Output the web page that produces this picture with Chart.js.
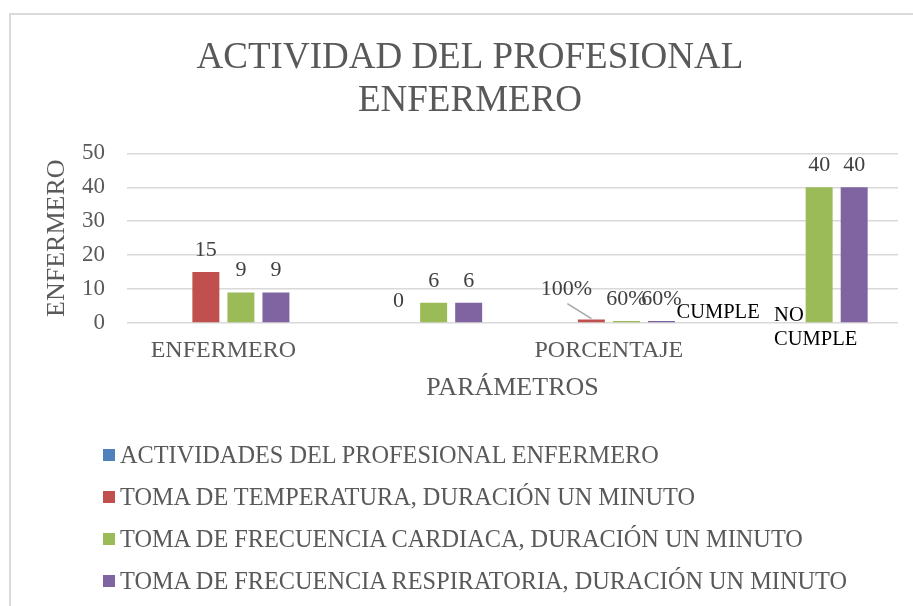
<!DOCTYPE html>
<html>
<head>
<meta charset="utf-8">
<script src="https://cdn.jsdelivr.net/npm/chart.js@4/dist/chart.umd.min.js"></script>
<style>
  body { margin: 0; background: #fff; }
  #wrap { position: relative; width: 913px; height: 606px; overflow: hidden; }
  #frame { position: absolute; left: 9px; top: 13px; width: 960px; height: 700px; border: 2px solid #d9d9d9; box-sizing: border-box; }
  #graph { position: absolute; left: 0; top: 0; }
  #legend { position: absolute; left: 103px; top: 434px; font-family: "Liberation Serif", serif; font-size: 24.3px; color: #595959; }
  .row { display: flex; align-items: center; height: 42px; line-height: 42px; white-space: nowrap; }
  .box { width: 12px; height: 12px; margin-right: 5px; flex: none; }
</style>
</head>
<body>
<div id="wrap">
  <div id="frame"></div>
  <canvas id="graph" width="913" height="606"></canvas>
  <div id="legend"></div>
</div>
<script>
const categories = ['ENFERMERO', '', 'PORCENTAJE', ''];
const seriesNames = [
    'ACTIVIDADES DEL PROFESIONAL ENFERMERO',
    'TOMA DE TEMPERATURA, DURACIÓN UN MINUTO',
    'TOMA DE FRECUENCIA CARDIACA, DURACIÓN UN MINUTO',
    'TOMA DE FRECUENCIA RESPIRATORIA, DURACIÓN UN MINUTO'
];
const actividades = [null, null, null, 0];
const temperatura = [15, 0, 1, 0];
const cardiaca = [9, 6, 0.6, 40];
const respiratoria = [9, 6, 0.6, 40];
// text shown over each bar
const actividadesLabels = ['', '', '', 'CUMPLE'];
const temperaturaLabels = ['15', '0', '100%', 'NO CUMPLE'];
const cardiacaLabels = ['9', '6', '60%', '40'];
const respiratoriaLabels = ['9', '6', '60%', '40'];
const yTicks = [0, 10, 20, 30, 40, 50];

const colors = ['#4f81bd', '#c0504d', '#9bbb59', '#8064a2'];
const allLabels = [actividadesLabels, temperaturaLabels, cardiacaLabels, respiratoriaLabels];

// labels that Excel moved around by hand
const moved = {
    '1-2': { dx: -25, dy: -25, leader: true },
    '0-3': { dx: -31, dy: -5, color: '#000', size: 20.5 },
    '1-3': { dx: -10, dy: -2, color: '#000', size: 20.5, align: 'left', lines: ['NO', 'CUMPLE'] }
};

const barLabels = {
    id: 'barLabels',
    afterDatasetsDraw(chart) {
        const ctx = chart.ctx;
        ctx.save();
        chart.data.datasets.forEach((ds, di) => {
            const meta = chart.getDatasetMeta(di);
            meta.data.forEach((bar, i) => {
                const text = allLabels[di][i];
                if (!text) return;
                const m = moved[di + '-' + i] || {};
                const x = bar.x + (m.dx || 0);
                const y = bar.y + (m.dy === undefined ? -16 : m.dy);
                ctx.fillStyle = m.color || '#404040';
                ctx.font = (m.size || 22) + 'px "Liberation Serif"';
                ctx.textAlign = m.align || 'center';
                ctx.textBaseline = 'alphabetic';
                if (m.lines) {
                    m.lines.forEach((ln, k) => ctx.fillText(ln, x, y + k * 24));
                } else {
                    ctx.fillText(text, x, y);
                }
                if (m.leader) {
                    ctx.strokeStyle = '#a6a6a6';
                    ctx.lineWidth = 1.5;
                    ctx.beginPath();
                    ctx.moveTo(x + 1, y + 9);
                    ctx.lineTo(bar.x, bar.y - 1);
                    ctx.stroke();
                }
            });
        });
        ctx.restore();
    }
};

const seriesData = [actividades, temperatura, cardiaca, respiratoria];
const ctx = document.getElementById('graph').getContext('2d');
const dataChart = new Chart(ctx, {
    type: 'bar',
    data: {
        labels: categories,
        datasets: seriesData.map((d, i) => ({
            label: seriesNames[i],
            data: d,
            backgroundColor: colors[i],
            categoryPercentage: 0.727,
            barPercentage: 0.77
        }))
    },
    options: {
        responsive: false,
        animation: false,
        layout: { padding: { left: 42, right: 15, top: 0, bottom: 202 } },
        plugins: {
            legend: { display: false },
            tooltip: { enabled: false },
            title: {
                display: true,
                text: ['ACTIVIDAD DEL PROFESIONAL', 'ENFERMERO'],
                color: '#595959',
                font: { family: 'Liberation Serif', size: 37, weight: 'normal', lineHeight: 1.18 },
                padding: { top: 36, bottom: 30 }
            }
        },
        scales: {
            x: {
                grid: { display: false, drawTicks: false },
                border: { display: false },
                ticks: {
                    autoSkip: false,
                    maxRotation: 0,
                    padding: 13,
                    color: '#595959',
                    font: { family: 'Liberation Serif', size: 24 }
                },
                title: {
                    display: true,
                    text: 'PARÁMETROS',
                    color: '#595959',
                    font: { family: 'Liberation Serif', size: 26, lineHeight: 1.2 },
                    padding: { top: -5, bottom: 0 }
                }
            },
            y: {
                min: 0,
                max: 50,
                afterFit: s => { s.width = 85; },
                afterBuildTicks: s => { s.ticks = yTicks.map(v => ({ value: v })); },
                grid: { color: '#d9d9d9', lineWidth: 1.5, drawTicks: false },
                border: { display: false },
                ticks: {
                    autoSkip: false,
                    padding: 22,
                    color: '#595959',
                    font: { family: 'Liberation Serif', size: 23 }
                },
                title: {
                    display: true,
                    text: 'ENFERMERO',
                    color: '#595959',
                    font: { family: 'Liberation Serif', size: 26, lineHeight: 1.2 },
                    padding: { top: 0, bottom: 0 }
                }
            }
        }
    },
    plugins: [barLabels]
});

// legend in the page, built from the series names and colours
const legend = document.getElementById('legend');
seriesNames.forEach((name, i) => {
    const row = document.createElement('div');
    row.className = 'row';
    row.innerHTML = '<span class="box" style="background:' + colors[i] + '"></span>' + name;
    legend.appendChild(row);
});
</script>
</body>
</html>
